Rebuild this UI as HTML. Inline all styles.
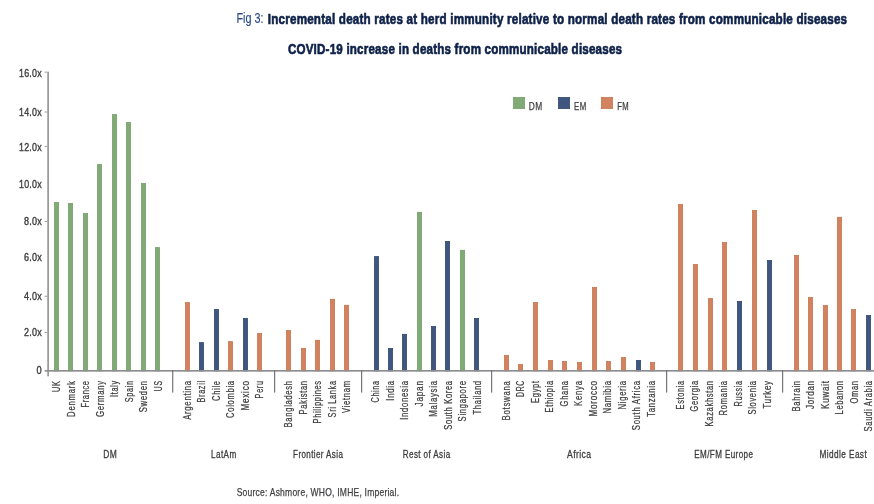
<!DOCTYPE html>
<html><head><meta charset="utf-8"><title>Fig 3</title>
<style>
html,body{margin:0;padding:0;background:#fff;}
body{width:874px;height:504px;overflow:hidden;}
svg{display:block;font-family:"Liberation Sans",sans-serif;}
</style></head><body>
<svg width="874" height="504" viewBox="0 0 874 504">
<rect width="874" height="504" fill="#fff"/>
<text x="236.5" y="22.8" font-size="14.8" fill="#2b4a85" stroke="#2b4a85" stroke-width="0.15" textLength="27.1" lengthAdjust="spacingAndGlyphs">Fig 3:</text>
<text x="267.8" y="23.5" font-size="14.8" font-weight="bold" letter-spacing="0.25" fill="#0e2149" stroke="#0e2149" stroke-width="0.65" textLength="579.5" lengthAdjust="spacingAndGlyphs">Incremental death rates at herd immunity relative to normal death rates from communicable diseases</text>
<text x="287.9" y="53.9" font-size="14.8" font-weight="bold" letter-spacing="0.25" fill="#0e2149" stroke="#0e2149" stroke-width="0.65" textLength="334.3" lengthAdjust="spacingAndGlyphs">COVID-19 increase in deaths from communicable diseases</text>
<rect x="513.4" y="97.4" width="11.2" height="11.2" fill="#82AA76" stroke="#74a06c" stroke-width="0.8"/>
<text x="528.8" y="109.9" font-size="10" letter-spacing="0.5" fill="#3e3e40" stroke="#3e3e40" stroke-width="0.25" textLength="13.8" lengthAdjust="spacingAndGlyphs">DM</text>
<rect x="558.4" y="97.4" width="11.2" height="11.2" fill="#3F567F" stroke="#314977" stroke-width="0.8"/>
<text x="574.1" y="109.9" font-size="10" letter-spacing="0.5" fill="#3e3e40" stroke="#3e3e40" stroke-width="0.25" textLength="12.5" lengthAdjust="spacingAndGlyphs">EM</text>
<rect x="601.4" y="97.4" width="11.2" height="11.2" fill="#D2825F" stroke="#c8764f" stroke-width="0.8"/>
<text x="617.2" y="109.9" font-size="10" letter-spacing="0.5" fill="#3e3e40" stroke="#3e3e40" stroke-width="0.25" textLength="11.9" lengthAdjust="spacingAndGlyphs">FM</text>
<rect x="54.4" y="202.5" width="4.2" height="168.4" fill="#82AA76" stroke="#74a06c" stroke-width="0.8"/>
<rect x="68.4" y="203.5" width="4.2" height="167.4" fill="#82AA76" stroke="#74a06c" stroke-width="0.8"/>
<rect x="83.4" y="213.4" width="4.2" height="157.5" fill="#82AA76" stroke="#74a06c" stroke-width="0.8"/>
<rect x="97.4" y="164.6" width="4.2" height="206.3" fill="#82AA76" stroke="#74a06c" stroke-width="0.8"/>
<rect x="112.4" y="114.6" width="4.2" height="256.3" fill="#82AA76" stroke="#74a06c" stroke-width="0.8"/>
<rect x="126.4" y="122.6" width="4.2" height="248.3" fill="#82AA76" stroke="#74a06c" stroke-width="0.8"/>
<rect x="141.4" y="183.4" width="4.2" height="187.5" fill="#82AA76" stroke="#74a06c" stroke-width="0.8"/>
<rect x="155.4" y="247.6" width="4.2" height="123.3" fill="#82AA76" stroke="#74a06c" stroke-width="0.8"/>
<rect x="185.4" y="302.5" width="4.2" height="68.4" fill="#D2825F" stroke="#c8764f" stroke-width="0.8"/>
<rect x="199.4" y="342.6" width="4.2" height="28.3" fill="#3F567F" stroke="#314977" stroke-width="0.8"/>
<rect x="214.4" y="309.4" width="4.2" height="61.5" fill="#3F567F" stroke="#314977" stroke-width="0.8"/>
<rect x="228.4" y="341.6" width="4.2" height="29.3" fill="#D2825F" stroke="#c8764f" stroke-width="0.8"/>
<rect x="243.4" y="318.4" width="4.2" height="52.5" fill="#3F567F" stroke="#314977" stroke-width="0.8"/>
<rect x="257.4" y="333.5" width="4.2" height="37.4" fill="#D2825F" stroke="#c8764f" stroke-width="0.8"/>
<rect x="286.4" y="330.5" width="4.2" height="40.4" fill="#D2825F" stroke="#c8764f" stroke-width="0.8"/>
<rect x="301.4" y="348.4" width="4.2" height="22.5" fill="#D2825F" stroke="#c8764f" stroke-width="0.8"/>
<rect x="315.4" y="340.3" width="4.2" height="30.6" fill="#D2825F" stroke="#c8764f" stroke-width="0.8"/>
<rect x="330.4" y="299.3" width="4.2" height="71.6" fill="#D2825F" stroke="#c8764f" stroke-width="0.8"/>
<rect x="344.4" y="305.3" width="4.2" height="65.6" fill="#D2825F" stroke="#c8764f" stroke-width="0.8"/>
<rect x="374.4" y="256.6" width="4.2" height="114.3" fill="#3F567F" stroke="#314977" stroke-width="0.8"/>
<rect x="388.4" y="348.4" width="4.2" height="22.5" fill="#3F567F" stroke="#314977" stroke-width="0.8"/>
<rect x="402.4" y="334.3" width="4.2" height="36.6" fill="#3F567F" stroke="#314977" stroke-width="0.8"/>
<rect x="417.4" y="212.3" width="4.2" height="158.6" fill="#82AA76" stroke="#74a06c" stroke-width="0.8"/>
<rect x="431.4" y="326.5" width="4.2" height="44.4" fill="#3F567F" stroke="#314977" stroke-width="0.8"/>
<rect x="445.4" y="241.5" width="4.2" height="129.4" fill="#3F567F" stroke="#314977" stroke-width="0.8"/>
<rect x="460.4" y="250.3" width="4.2" height="120.6" fill="#82AA76" stroke="#74a06c" stroke-width="0.8"/>
<rect x="474.4" y="318.4" width="4.2" height="52.5" fill="#3F567F" stroke="#314977" stroke-width="0.8"/>
<rect x="504.4" y="355.4" width="4.2" height="15.5" fill="#D2825F" stroke="#c8764f" stroke-width="0.8"/>
<rect x="518.4" y="364.5" width="4.2" height="6.4" fill="#D2825F" stroke="#c8764f" stroke-width="0.8"/>
<rect x="533.4" y="302.5" width="4.2" height="68.4" fill="#D2825F" stroke="#c8764f" stroke-width="0.8"/>
<rect x="548.4" y="360.4" width="4.2" height="10.5" fill="#D2825F" stroke="#c8764f" stroke-width="0.8"/>
<rect x="562.4" y="361.4" width="4.2" height="9.5" fill="#D2825F" stroke="#c8764f" stroke-width="0.8"/>
<rect x="577.4" y="362.5" width="4.2" height="8.4" fill="#D2825F" stroke="#c8764f" stroke-width="0.8"/>
<rect x="592.4" y="287.4" width="4.2" height="83.5" fill="#D2825F" stroke="#c8764f" stroke-width="0.8"/>
<rect x="606.4" y="361.4" width="4.2" height="9.5" fill="#D2825F" stroke="#c8764f" stroke-width="0.8"/>
<rect x="621.4" y="357.4" width="4.2" height="13.5" fill="#D2825F" stroke="#c8764f" stroke-width="0.8"/>
<rect x="636.4" y="360.4" width="4.2" height="10.5" fill="#3F567F" stroke="#314977" stroke-width="0.8"/>
<rect x="650.4" y="362.4" width="4.2" height="8.5" fill="#D2825F" stroke="#c8764f" stroke-width="0.8"/>
<rect x="678.4" y="204.5" width="4.2" height="166.4" fill="#D2825F" stroke="#c8764f" stroke-width="0.8"/>
<rect x="693.4" y="264.4" width="4.2" height="106.5" fill="#D2825F" stroke="#c8764f" stroke-width="0.8"/>
<rect x="708.4" y="298.6" width="4.2" height="72.3" fill="#D2825F" stroke="#c8764f" stroke-width="0.8"/>
<rect x="722.4" y="242.5" width="4.2" height="128.4" fill="#D2825F" stroke="#c8764f" stroke-width="0.8"/>
<rect x="737.4" y="301.4" width="4.2" height="69.5" fill="#3F567F" stroke="#314977" stroke-width="0.8"/>
<rect x="752.4" y="210.5" width="4.2" height="160.4" fill="#D2825F" stroke="#c8764f" stroke-width="0.8"/>
<rect x="767.4" y="260.4" width="4.2" height="110.5" fill="#3F567F" stroke="#314977" stroke-width="0.8"/>
<rect x="794.4" y="255.4" width="4.2" height="115.5" fill="#D2825F" stroke="#c8764f" stroke-width="0.8"/>
<rect x="808.4" y="297.4" width="4.2" height="73.5" fill="#D2825F" stroke="#c8764f" stroke-width="0.8"/>
<rect x="823.4" y="305.5" width="4.2" height="65.4" fill="#D2825F" stroke="#c8764f" stroke-width="0.8"/>
<rect x="837.4" y="217.3" width="4.2" height="153.6" fill="#D2825F" stroke="#c8764f" stroke-width="0.8"/>
<rect x="851.4" y="309.5" width="4.2" height="61.4" fill="#D2825F" stroke="#c8764f" stroke-width="0.8"/>
<rect x="866.4" y="315.5" width="4.2" height="55.4" fill="#3F567F" stroke="#314977" stroke-width="0.8"/>
<rect x="47.25" y="71.7" width="1.75" height="304.6" fill="#9a9a9c"/>
<rect x="44.7" y="370" width="829.3" height="1.65" fill="#8d8d8f"/>
<rect x="172.15" y="370" width="1.15" height="22.6" fill="#717173"/>
<rect x="274.05" y="370" width="1.15" height="22.6" fill="#717173"/>
<rect x="361.05" y="370" width="1.15" height="22.6" fill="#717173"/>
<rect x="491.05" y="370" width="1.15" height="22.6" fill="#717173"/>
<rect x="666.05" y="370" width="1.15" height="22.6" fill="#717173"/>
<rect x="782.05" y="370" width="1.15" height="22.6" fill="#717173"/>
<rect x="44.6" y="71.7" width="2.6" height="0.8" fill="#848488"/>
<text x="19.0" y="77.0" font-size="11.5" letter-spacing="0.3" fill="#3e3e40" stroke="#3e3e40" stroke-width="0.4" textLength="22.9" lengthAdjust="spacingAndGlyphs">16.0x</text>
<rect x="44.6" y="111.6" width="2.6" height="0.8" fill="#848488"/>
<text x="19.0" y="116.1" font-size="11.5" letter-spacing="0.3" fill="#3e3e40" stroke="#3e3e40" stroke-width="0.4" textLength="22.9" lengthAdjust="spacingAndGlyphs">14.0x</text>
<rect x="44.6" y="145.9" width="2.6" height="0.8" fill="#848488"/>
<text x="19.0" y="151.1" font-size="11.5" letter-spacing="0.3" fill="#3e3e40" stroke="#3e3e40" stroke-width="0.4" textLength="22.9" lengthAdjust="spacingAndGlyphs">12.0x</text>
<text x="19.0" y="188.1" font-size="11.5" letter-spacing="0.3" fill="#3e3e40" stroke="#3e3e40" stroke-width="0.4" textLength="22.9" lengthAdjust="spacingAndGlyphs">10.0x</text>
<rect x="44.6" y="221.1" width="2.6" height="0.8" fill="#848488"/>
<text x="23.9" y="225.4" font-size="11.5" letter-spacing="0.3" fill="#3e3e40" stroke="#3e3e40" stroke-width="0.4" textLength="18.0" lengthAdjust="spacingAndGlyphs">8.0x</text>
<text x="23.9" y="261.1" font-size="11.5" letter-spacing="0.3" fill="#3e3e40" stroke="#3e3e40" stroke-width="0.4" textLength="18.0" lengthAdjust="spacingAndGlyphs">6.0x</text>
<rect x="44.6" y="295.8" width="2.6" height="0.8" fill="#848488"/>
<text x="23.9" y="300.4" font-size="11.5" letter-spacing="0.3" fill="#3e3e40" stroke="#3e3e40" stroke-width="0.4" textLength="18.0" lengthAdjust="spacingAndGlyphs">4.0x</text>
<rect x="44.6" y="331.9" width="2.6" height="0.8" fill="#848488"/>
<text x="23.9" y="336.1" font-size="11.5" letter-spacing="0.3" fill="#3e3e40" stroke="#3e3e40" stroke-width="0.4" textLength="18.0" lengthAdjust="spacingAndGlyphs">2.0x</text>
<text x="36.5" y="374.2" font-size="11.5" letter-spacing="0.3" fill="#3e3e40" stroke="#3e3e40" stroke-width="0.4" textLength="5.4" lengthAdjust="spacingAndGlyphs">0</text>
<text transform="translate(60.3,391.9) rotate(-90)" font-size="10" letter-spacing="0.9" fill="#3e3e40" stroke="#3e3e40" stroke-width="0.25" textLength="11.6" lengthAdjust="spacingAndGlyphs">UK</text>
<text transform="translate(74.8,416.9) rotate(-90)" font-size="10" letter-spacing="0.9" fill="#3e3e40" stroke="#3e3e40" stroke-width="0.25" textLength="36.6" lengthAdjust="spacingAndGlyphs">Denmark</text>
<text transform="translate(89.3,407.6) rotate(-90)" font-size="10" letter-spacing="0.9" fill="#3e3e40" stroke="#3e3e40" stroke-width="0.25" textLength="27.3" lengthAdjust="spacingAndGlyphs">France</text>
<text transform="translate(103.8,416.9) rotate(-90)" font-size="10" letter-spacing="0.9" fill="#3e3e40" stroke="#3e3e40" stroke-width="0.25" textLength="36.6" lengthAdjust="spacingAndGlyphs">Germany</text>
<text transform="translate(118.3,397.0) rotate(-90)" font-size="10" letter-spacing="0.9" fill="#3e3e40" stroke="#3e3e40" stroke-width="0.25" textLength="16.7" lengthAdjust="spacingAndGlyphs">Italy</text>
<text transform="translate(132.8,402.2) rotate(-90)" font-size="10" letter-spacing="0.9" fill="#3e3e40" stroke="#3e3e40" stroke-width="0.25" textLength="21.9" lengthAdjust="spacingAndGlyphs">Spain</text>
<text transform="translate(147.3,412.2) rotate(-90)" font-size="10" letter-spacing="0.9" fill="#3e3e40" stroke="#3e3e40" stroke-width="0.25" textLength="31.9" lengthAdjust="spacingAndGlyphs">Sweden</text>
<text transform="translate(161.8,391.2) rotate(-90)" font-size="10" letter-spacing="0.9" fill="#3e3e40" stroke="#3e3e40" stroke-width="0.25" textLength="10.9" lengthAdjust="spacingAndGlyphs">US</text>
<text transform="translate(190.8,419.8) rotate(-90)" font-size="10" letter-spacing="0.9" fill="#3e3e40" stroke="#3e3e40" stroke-width="0.25" textLength="39.5" lengthAdjust="spacingAndGlyphs">Argentina</text>
<text transform="translate(205.3,402.4) rotate(-90)" font-size="10" letter-spacing="0.9" fill="#3e3e40" stroke="#3e3e40" stroke-width="0.25" textLength="22.1" lengthAdjust="spacingAndGlyphs">Brazil</text>
<text transform="translate(219.8,400.9) rotate(-90)" font-size="10" letter-spacing="0.9" fill="#3e3e40" stroke="#3e3e40" stroke-width="0.25" textLength="20.6" lengthAdjust="spacingAndGlyphs">Chile</text>
<text transform="translate(234.3,417.9) rotate(-90)" font-size="10" letter-spacing="0.9" fill="#3e3e40" stroke="#3e3e40" stroke-width="0.25" textLength="37.6" lengthAdjust="spacingAndGlyphs">Colombia</text>
<text transform="translate(248.8,410.5) rotate(-90)" font-size="10" letter-spacing="0.9" fill="#3e3e40" stroke="#3e3e40" stroke-width="0.25" textLength="30.2" lengthAdjust="spacingAndGlyphs">Mexico</text>
<text transform="translate(263.3,398.4) rotate(-90)" font-size="10" letter-spacing="0.9" fill="#3e3e40" stroke="#3e3e40" stroke-width="0.25" textLength="18.1" lengthAdjust="spacingAndGlyphs">Peru</text>
<text transform="translate(292.3,427.4) rotate(-90)" font-size="10" letter-spacing="0.9" fill="#3e3e40" stroke="#3e3e40" stroke-width="0.25" textLength="47.1" lengthAdjust="spacingAndGlyphs">Bangladesh</text>
<text transform="translate(306.8,414.4) rotate(-90)" font-size="10" letter-spacing="0.9" fill="#3e3e40" stroke="#3e3e40" stroke-width="0.25" textLength="34.1" lengthAdjust="spacingAndGlyphs">Pakistan</text>
<text transform="translate(321.3,423.4) rotate(-90)" font-size="10" letter-spacing="0.9" fill="#3e3e40" stroke="#3e3e40" stroke-width="0.25" textLength="43.1" lengthAdjust="spacingAndGlyphs">Philippines</text>
<text transform="translate(335.8,417.4) rotate(-90)" font-size="10" letter-spacing="0.9" fill="#3e3e40" stroke="#3e3e40" stroke-width="0.25" textLength="37.1" lengthAdjust="spacingAndGlyphs">Sri Lanka</text>
<text transform="translate(350.3,412.9) rotate(-90)" font-size="10" letter-spacing="0.9" fill="#3e3e40" stroke="#3e3e40" stroke-width="0.25" textLength="32.6" lengthAdjust="spacingAndGlyphs">Vietnam</text>
<text transform="translate(379.3,402.4) rotate(-90)" font-size="10" letter-spacing="0.9" fill="#3e3e40" stroke="#3e3e40" stroke-width="0.25" textLength="22.1" lengthAdjust="spacingAndGlyphs">China</text>
<text transform="translate(393.8,400.7) rotate(-90)" font-size="10" letter-spacing="0.9" fill="#3e3e40" stroke="#3e3e40" stroke-width="0.25" textLength="20.4" lengthAdjust="spacingAndGlyphs">India</text>
<text transform="translate(408.3,419.7) rotate(-90)" font-size="10" letter-spacing="0.9" fill="#3e3e40" stroke="#3e3e40" stroke-width="0.25" textLength="39.4" lengthAdjust="spacingAndGlyphs">Indonesia</text>
<text transform="translate(422.8,406.4) rotate(-90)" font-size="10" letter-spacing="0.9" fill="#3e3e40" stroke="#3e3e40" stroke-width="0.25" textLength="26.1" lengthAdjust="spacingAndGlyphs">Japan</text>
<text transform="translate(437.3,416.8) rotate(-90)" font-size="10" letter-spacing="0.9" fill="#3e3e40" stroke="#3e3e40" stroke-width="0.25" textLength="36.5" lengthAdjust="spacingAndGlyphs">Malaysia</text>
<text transform="translate(451.8,429.7) rotate(-90)" font-size="10" letter-spacing="0.9" fill="#3e3e40" stroke="#3e3e40" stroke-width="0.25" textLength="49.4" lengthAdjust="spacingAndGlyphs">South Korea</text>
<text transform="translate(466.3,421.4) rotate(-90)" font-size="10" letter-spacing="0.9" fill="#3e3e40" stroke="#3e3e40" stroke-width="0.25" textLength="41.1" lengthAdjust="spacingAndGlyphs">Singapore</text>
<text transform="translate(480.8,414.4) rotate(-90)" font-size="10" letter-spacing="0.9" fill="#3e3e40" stroke="#3e3e40" stroke-width="0.25" textLength="34.1" lengthAdjust="spacingAndGlyphs">Thailand</text>
<text transform="translate(509.8,420.4) rotate(-90)" font-size="10" letter-spacing="0.9" fill="#3e3e40" stroke="#3e3e40" stroke-width="0.25" textLength="40.1" lengthAdjust="spacingAndGlyphs">Botswana</text>
<text transform="translate(524.3,396.9) rotate(-90)" font-size="10" letter-spacing="0.9" fill="#3e3e40" stroke="#3e3e40" stroke-width="0.25" textLength="16.6" lengthAdjust="spacingAndGlyphs">DRC</text>
<text transform="translate(538.8,402.9) rotate(-90)" font-size="10" letter-spacing="0.9" fill="#3e3e40" stroke="#3e3e40" stroke-width="0.25" textLength="22.6" lengthAdjust="spacingAndGlyphs">Egypt</text>
<text transform="translate(553.3,412.4) rotate(-90)" font-size="10" letter-spacing="0.9" fill="#3e3e40" stroke="#3e3e40" stroke-width="0.25" textLength="32.1" lengthAdjust="spacingAndGlyphs">Ethiopia</text>
<text transform="translate(567.8,406.4) rotate(-90)" font-size="10" letter-spacing="0.9" fill="#3e3e40" stroke="#3e3e40" stroke-width="0.25" textLength="26.1" lengthAdjust="spacingAndGlyphs">Ghana</text>
<text transform="translate(582.3,405.9) rotate(-90)" font-size="10" letter-spacing="0.9" fill="#3e3e40" stroke="#3e3e40" stroke-width="0.25" textLength="25.6" lengthAdjust="spacingAndGlyphs">Kenya</text>
<text transform="translate(596.8,416.4) rotate(-90)" font-size="10" letter-spacing="0.9" fill="#3e3e40" stroke="#3e3e40" stroke-width="0.25" textLength="36.1" lengthAdjust="spacingAndGlyphs">Morocco</text>
<text transform="translate(611.3,413.4) rotate(-90)" font-size="10" letter-spacing="0.9" fill="#3e3e40" stroke="#3e3e40" stroke-width="0.25" textLength="33.1" lengthAdjust="spacingAndGlyphs">Namibia</text>
<text transform="translate(625.8,409.4) rotate(-90)" font-size="10" letter-spacing="0.9" fill="#3e3e40" stroke="#3e3e40" stroke-width="0.25" textLength="29.1" lengthAdjust="spacingAndGlyphs">Nigeria</text>
<text transform="translate(640.3,430.2) rotate(-90)" font-size="10" letter-spacing="0.9" fill="#3e3e40" stroke="#3e3e40" stroke-width="0.25" textLength="49.9" lengthAdjust="spacingAndGlyphs">South Africa</text>
<text transform="translate(654.8,416.8) rotate(-90)" font-size="10" letter-spacing="0.9" fill="#3e3e40" stroke="#3e3e40" stroke-width="0.25" textLength="36.5" lengthAdjust="spacingAndGlyphs">Tanzania</text>
<text transform="translate(683.8,409.4) rotate(-90)" font-size="10" letter-spacing="0.9" fill="#3e3e40" stroke="#3e3e40" stroke-width="0.25" textLength="29.1" lengthAdjust="spacingAndGlyphs">Estonia</text>
<text transform="translate(698.3,411.4) rotate(-90)" font-size="10" letter-spacing="0.9" fill="#3e3e40" stroke="#3e3e40" stroke-width="0.25" textLength="31.1" lengthAdjust="spacingAndGlyphs">Georgia</text>
<text transform="translate(712.8,426.4) rotate(-90)" font-size="10" letter-spacing="0.9" fill="#3e3e40" stroke="#3e3e40" stroke-width="0.25" textLength="46.1" lengthAdjust="spacingAndGlyphs">Kazakhstan</text>
<text transform="translate(727.3,415.4) rotate(-90)" font-size="10" letter-spacing="0.9" fill="#3e3e40" stroke="#3e3e40" stroke-width="0.25" textLength="35.1" lengthAdjust="spacingAndGlyphs">Romania</text>
<text transform="translate(741.8,406.4) rotate(-90)" font-size="10" letter-spacing="0.9" fill="#3e3e40" stroke="#3e3e40" stroke-width="0.25" textLength="26.1" lengthAdjust="spacingAndGlyphs">Russia</text>
<text transform="translate(756.3,414.4) rotate(-90)" font-size="10" letter-spacing="0.9" fill="#3e3e40" stroke="#3e3e40" stroke-width="0.25" textLength="34.1" lengthAdjust="spacingAndGlyphs">Slovenia</text>
<text transform="translate(770.8,408.4) rotate(-90)" font-size="10" letter-spacing="0.9" fill="#3e3e40" stroke="#3e3e40" stroke-width="0.25" textLength="28.1" lengthAdjust="spacingAndGlyphs">Turkey</text>
<text transform="translate(799.8,411.4) rotate(-90)" font-size="10" letter-spacing="0.9" fill="#3e3e40" stroke="#3e3e40" stroke-width="0.25" textLength="31.1" lengthAdjust="spacingAndGlyphs">Bahrain</text>
<text transform="translate(814.3,408.9) rotate(-90)" font-size="10" letter-spacing="0.9" fill="#3e3e40" stroke="#3e3e40" stroke-width="0.25" textLength="28.6" lengthAdjust="spacingAndGlyphs">Jordan</text>
<text transform="translate(828.8,408.9) rotate(-90)" font-size="10" letter-spacing="0.9" fill="#3e3e40" stroke="#3e3e40" stroke-width="0.25" textLength="28.6" lengthAdjust="spacingAndGlyphs">Kuwait</text>
<text transform="translate(843.3,414.4) rotate(-90)" font-size="10" letter-spacing="0.9" fill="#3e3e40" stroke="#3e3e40" stroke-width="0.25" textLength="34.1" lengthAdjust="spacingAndGlyphs">Lebanon</text>
<text transform="translate(857.8,403.4) rotate(-90)" font-size="10" letter-spacing="0.9" fill="#3e3e40" stroke="#3e3e40" stroke-width="0.25" textLength="23.1" lengthAdjust="spacingAndGlyphs">Oman</text>
<text transform="translate(872.3,431.4) rotate(-90)" font-size="10" letter-spacing="0.9" fill="#3e3e40" stroke="#3e3e40" stroke-width="0.25" textLength="51.1" lengthAdjust="spacingAndGlyphs">Saudi Arabia</text>
<text x="103.3" y="457.7" font-size="10" letter-spacing="0.5" fill="#3e3e40" stroke="#3e3e40" stroke-width="0.3" textLength="14.0" lengthAdjust="spacingAndGlyphs">DM</text>
<text x="211.1" y="457.7" font-size="10" letter-spacing="0.5" fill="#3e3e40" stroke="#3e3e40" stroke-width="0.3" textLength="25.5" lengthAdjust="spacingAndGlyphs">LatAm</text>
<text x="293.1" y="457.7" font-size="10" letter-spacing="0.5" fill="#3e3e40" stroke="#3e3e40" stroke-width="0.3" textLength="50.2" lengthAdjust="spacingAndGlyphs">Frontier Asia</text>
<text x="402.8" y="457.7" font-size="10" letter-spacing="0.5" fill="#3e3e40" stroke="#3e3e40" stroke-width="0.3" textLength="47.8" lengthAdjust="spacingAndGlyphs">Rest of Asia</text>
<text x="567" y="457.7" font-size="10" letter-spacing="0.5" fill="#3e3e40" stroke="#3e3e40" stroke-width="0.3" textLength="24.5" lengthAdjust="spacingAndGlyphs">Africa</text>
<text x="694.3" y="457.7" font-size="10" letter-spacing="0.5" fill="#3e3e40" stroke="#3e3e40" stroke-width="0.3" textLength="59.0" lengthAdjust="spacingAndGlyphs">EM/FM Europe</text>
<text x="819.6" y="457.7" font-size="10" letter-spacing="0.5" fill="#3e3e40" stroke="#3e3e40" stroke-width="0.3" textLength="47.5" lengthAdjust="spacingAndGlyphs">Middle East</text>
<text x="236.7" y="495.9" font-size="11.5" letter-spacing="0.3" fill="#3e3e40" stroke="#3e3e40" stroke-width="0.25" textLength="162.6" lengthAdjust="spacingAndGlyphs">Source: Ashmore, WHO, IMHE, Imperial.</text>
</svg></body></html>
